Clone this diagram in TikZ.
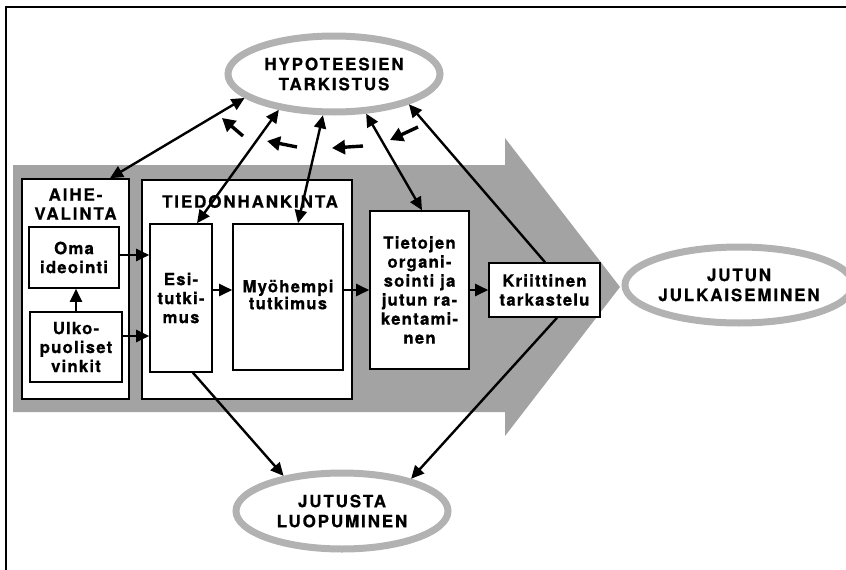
\documentclass[tikz,border=0pt]{standalone}
\usepackage{fontspec}
\setmainfont{TeX Gyre Heros}
\newfontfamily\boxfont{TeX Gyre Heros}[LetterSpace=7,FakeBold=0.6]
\newfontfamily\ttlfont{TeX Gyre Heros}[LetterSpace=11,FakeBold=0.6]
\usetikzlibrary{arrows.meta,shapes.geometric}
\definecolor{arrowgray}{gray}{0.64}
\definecolor{ringgray}{gray}{0.70}
\begin{document}
\begin{tikzpicture}[x=1pt,y=-1pt,
  bx/.style={draw=black, line width=1.6pt, fill=white, align=center, inner sep=0pt,
     font=\boxfont\bfseries\fontsize{16.8}{19}\selectfont},
  ctr/.style={draw=black, line width=1.6pt, fill=white, inner sep=0pt},
  ttl/.style={align=center, inner sep=0pt, font=\ttlfont\bfseries\fontsize{17}{19}\selectfont},
  ell/.style={ellipse, draw=ringgray, line width=7pt, fill=white, inner sep=0pt,
     minimum width=212pt, minimum height=76pt, align=center,
     font=\ttlfont\bfseries\fontsize{17}{20}\selectfont},
  con/.style={line width=2.4pt, -{Triangle[length=13pt,width=12pt]}},
  dcon/.style={line width=2.4pt, {Triangle[length=13pt,width=12pt]}-{Triangle[length=13pt,width=12pt]}},
  fb/.style={line width=3.4pt, -{Triangle[length=13pt,width=14pt]}}
]
\useasboundingbox (0,0) rectangle (846,570);
% frame
\draw[line width=1.4pt] (6,570) -- (6,7) -- (846,7);
% big arrow
\fill[arrowgray] (13,165) -- (505,165) -- (505,138) -- (620,287) -- (505,436) -- (505,412) -- (13,412) -- cycle;
% ellipses
\node[ell] (hyp) at (334,74) {HYPOTEESIEN\\TARKISTUS};
\node[ell] (julk) at (739,285) {JUTUN\\JULKAISEMINEN};
\node[ell] (jut) at (342,511) {JUTUSTA\\LUOPUMINEN};
% containers
\node[ctr, minimum width=107pt, minimum height=220pt] (aihe) at (75.5,289) {};
\node[ctr, minimum width=210pt, minimum height=219pt] (tied) at (247,289.5) {};
\node[ttl] (aiheT) at (75.5,204) {AIHE-\\VALINTA};
\node[ttl] (tiedT) at (250,201.5) {TIEDONHANKINTA};
% boxes
\node[bx, minimum width=90pt, minimum height=61pt] (oma) at (74,257.5) {Oma\\ideointi};
\node[bx, minimum width=92pt, minimum height=70pt] (ulko) at (76,347) {Ulko-\\puoliset\\vinkit};
\node[bx, minimum width=62pt, minimum height=148pt] (esi) at (181,298) {Esi-\\tutki-\\mus};
\node[bx, minimum width=110pt, minimum height=146pt] (myo) at (288,297) {\raisebox{5pt}{\begin{tabular}{@{}c@{}}Myöhempi\\[-2pt]tutkimus\end{tabular}}};
\node[bx, minimum width=99pt, minimum height=158pt] (tiet) at (419.5,290) {Tietojen\\organi-\\sointi ja\\jutun ra-\\kentami-\\nen};
\node[bx, minimum width=111pt, minimum height=54pt] (krit) at (544.5,290) {Kriittinen\\tarkastelu};
% horizontal flow
\draw[con] ([yshift=2.5pt]oma.east) -- ([yshift=2.5pt]oma.east -| esi.west);
\draw[con] ([yshift=11pt]ulko.east) -- ([yshift=11pt]ulko.east -| esi.west);
\draw[con] (ulko.north) -- (ulko.north |- oma.south);
\draw[con] ([yshift=8pt]esi.east) -- ([yshift=8pt]esi.east -| myo.west);
\draw[con] ([yshift=7pt]myo.east) -- ([yshift=7pt]myo.east -| tiet.west);
\draw[con] (tiet.east) -- (krit.west);
% links to hypothesis checking
\draw[dcon] ([xshift=34.5pt]aihe.north) -- (hyp.195.5);
\draw[dcon] ([xshift=16pt]esi.north) -- (hyp.213.7);
\draw[dcon] ([xshift=10pt]myo.north) -- (hyp.255);
\draw[dcon] ([xshift=2.5pt]tiet.north) -- (hyp.309);
\draw[con] ([xshift=0.5pt]krit.north) -- (hyp.338);
% links to abandoning
\draw[con] ([xshift=12pt]esi.south) -- (jut.149);
\draw[con] ([xshift=12.5pt]krit.south) -- (jut.25.6);
% feedback arrows
\coordinate (fa1) at (243,136); \coordinate (fa2) at (222,118);
\coordinate (fb1) at (297,147); \coordinate (fb2) at (267,141);
\coordinate (fc1) at (363,146); \coordinate (fc2) at (332,148);
\coordinate (fd1) at (418,127); \coordinate (fd2) at (390,140);
\draw[fb] (fa1) -- (fa2);
\draw[fb] (fb1) -- (fb2);
\draw[fb] (fc1) -- (fc2);
\draw[fb] (fd1) -- (fd2);
\end{tikzpicture}
\end{document}
